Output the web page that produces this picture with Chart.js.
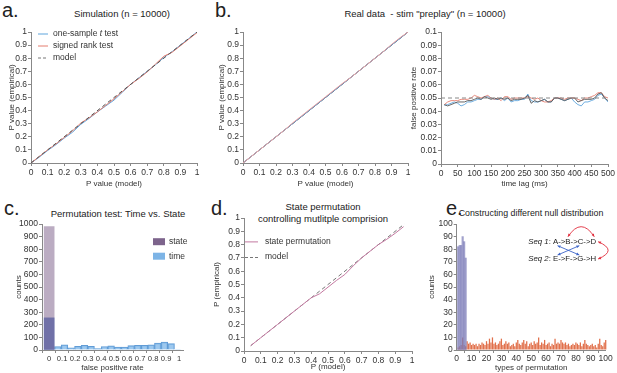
<!DOCTYPE html>
<html>
<head>
<meta charset="utf-8">
<script src="https://cdn.jsdelivr.net/npm/chart.js@4.4.0/dist/chart.umd.min.js"></script>
<style>
  html, body { margin: 0; padding: 0; background: #fff; }
  #fig { position: relative; width: 617px; height: 373px; overflow: hidden; font-family: "Liberation Sans", Arial, sans-serif; color: #222; }
  #fig canvas { position: absolute; }
  .letter { position: absolute; font-size: 20px; line-height: 20px; }
  .ttl { position: absolute; font-size: 9.5px; line-height: 11px; white-space: pre; transform: translate(-50%, -50%); }
</style>
</head>
<body>
<div id="fig">
  <div class="letter" style="left:2px;top:0px">a.</div>
  <div class="letter" style="left:215px;top:0px">b.</div>
  <div class="letter" style="left:4px;top:198px">c.</div>
  <div class="letter" style="left:211px;top:198px">d.</div>
  <div class="letter" style="left:446px;top:198px">e.</div>
  <div class="ttl" style="left:122px;top:13px">Simulation (n = 10000)</div>
  <div class="ttl" style="left:425px;top:13px">Real data  - stim "preplay" (n = 10000)</div>
  <div class="ttl" style="left:118px;top:213px">Permutation test: Time vs. State</div>
  <div class="ttl" style="left:323px;top:206px">State permutation</div>
  <div class="ttl" style="left:323px;top:218px">controlling mutlitple comprision</div>
  <div class="ttl" style="left:531px;top:213px;font-size:8.8px">Constructing different null distribution</div>
  <canvas id="chartA"></canvas>
  <canvas id="chartB1"></canvas>
  <canvas id="chartB2"></canvas>
  <canvas id="chartC"></canvas>
  <canvas id="chartD"></canvas>
  <canvas id="chartE"></canvas>
</div>
<script>
// ---- data ----

// a. simulation, P value (model) vs P value (empirical)
const aModelP = [0, 0.05, 0.1, 0.15, 0.2, 0.25, 0.3, 0.35, 0.4, 0.45, 0.5, 0.55, 0.6, 0.65, 0.7, 0.75, 0.8, 0.85, 0.9, 0.95, 1];
const aTtest = [0, 0.045, 0.095, 0.14, 0.19, 0.235, 0.295, 0.34, 0.39, 0.435, 0.48, 0.54, 0.6, 0.65, 0.7, 0.75, 0.805, 0.85, 0.9, 0.95, 1];
const aRank = [0, 0.05, 0.1, 0.145, 0.195, 0.245, 0.305, 0.345, 0.39, 0.44, 0.49, 0.545, 0.6, 0.645, 0.695, 0.755, 0.815, 0.845, 0.895, 0.945, 0.995];
const aModelLine = [0, 1];

// b. real data, left panel
const bModelP = [0, 0.05, 0.1, 0.15, 0.2, 0.25, 0.3, 0.35, 0.4, 0.45, 0.5, 0.55, 0.6, 0.65, 0.7, 0.75, 0.8, 0.85, 0.9, 0.95, 1];
const bTtest = [0, 0.05, 0.1, 0.15, 0.2, 0.25, 0.3, 0.35, 0.4, 0.45, 0.5, 0.55, 0.6, 0.65, 0.7, 0.75, 0.8, 0.85, 0.9, 0.95, 1];
const bRank = [0, 0.05, 0.1, 0.15, 0.2, 0.25, 0.305, 0.355, 0.405, 0.455, 0.505, 0.555, 0.605, 0.65, 0.7, 0.75, 0.8, 0.85, 0.905, 0.955, 1];

// b. real data, right panel: false positive rate by time lag
const lagMs = [10, 20, 30, 40, 50, 60, 70, 80, 90, 100, 110, 120, 130, 140, 150, 160, 170, 180, 190, 200,
  210, 220, 230, 240, 250, 260, 270, 280, 290, 300, 310, 320, 330, 340, 350, 360, 370, 380, 390, 400,
  410, 420, 430, 440, 450, 460, 470, 480, 490, 500];
const fprTtest = [0.0445, 0.045, 0.046, 0.047, 0.046, 0.044, 0.045, 0.047, 0.047, 0.048, 0.049, 0.049, 0.051, 0.051, 0.05, 0.049, 0.049, 0.05, 0.048, 0.05,
  0.047, 0.048, 0.048, 0.049, 0.049, 0.053, 0.048, 0.047, 0.047, 0.048, 0.049, 0.047, 0.047, 0.05, 0.05, 0.049, 0.048, 0.049, 0.05, 0.047,
  0.045, 0.044, 0.047, 0.047, 0.048, 0.049, 0.052, 0.053, 0.05, 0.047];
const fprRank = [0.045, 0.047, 0.048, 0.048, 0.048, 0.049, 0.049, 0.049, 0.05, 0.052, 0.051, 0.05, 0.051, 0.052, 0.05, 0.049, 0.05, 0.048, 0.051, 0.051,
  0.049, 0.05, 0.05, 0.05, 0.05, 0.051, 0.05, 0.049, 0.05, 0.048, 0.047, 0.047, 0.048, 0.05, 0.05, 0.05, 0.049, 0.05, 0.05, 0.05,
  0.049, 0.048, 0.05, 0.05, 0.051, 0.052, 0.054, 0.054, 0.051, 0.05];
const fprOther = [0.045, 0.044, 0.045, 0.046, 0.047, 0.047, 0.047, 0.048, 0.048, 0.049, 0.05, 0.049, 0.051, 0.05, 0.049, 0.05, 0.049, 0.05, 0.049, 0.05,
  0.048, 0.049, 0.049, 0.049, 0.05, 0.052, 0.046, 0.048, 0.047, 0.048, 0.049, 0.047, 0.047, 0.05, 0.05, 0.049, 0.048, 0.049, 0.05, 0.05,
  0.047, 0.048, 0.049, 0.049, 0.049, 0.05, 0.053, 0.054, 0.05, 0.048];
const fprNominalX = [0, 500];
const fprNominal = [0.05, 0.05];

// c. permutation test histogram
const cStateRate = [0];
const cStateCounts = [980];
const cTimeRate = [0, 0.067, 0.118, 0.169, 0.221, 0.272, 0.323, 0.375, 0.426, 0.477, 0.528, 0.58, 0.631, 0.682, 0.734, 0.785, 0.836, 0.887, 0.939, 0.99];
const cTimeCounts = [255, 28, 42, 18, 30, 38, 30, 12, 28, 33, 24, 24, 35, 38, 38, 42, 55, 63, 50, 4];

// d. state permutation controlling multiple comparison
const dModelP = [0.04, 0.1, 0.15, 0.2, 0.25, 0.3, 0.35, 0.4, 0.45, 0.5, 0.55, 0.6, 0.65, 0.7, 0.75, 0.8, 0.85, 0.9, 0.95];
const dStatePerm = [0.04, 0.1, 0.15, 0.2, 0.25, 0.3, 0.35, 0.4, 0.43, 0.48, 0.53, 0.575, 0.64, 0.7, 0.75, 0.8, 0.84, 0.885, 0.935];
const dModelLineX = [0.04, 0.955];
const dModelLine = [0.04, 0.955];

// e. null distributions by permutation type
const eSpecialTypes = [1, 2, 3, 4, 5, 6];
const eSpecialCounts = [82, 83, 83, 90, 86, 73];
const ePermTypes = Array.from({length: 100}, (_, i) => i + 1);
const ePermCounts = [2, 3, 4, 10, 4, 3, 7, 5, 6, 4,
  5, 4, 5, 3, 5, 4, 6, 5, 4, 7,
  5, 9, 6, 10, 5, 6, 4, 5, 7, 9,
  4, 5, 7, 5, 6, 3, 4, 5, 3, 6,
  8, 5, 4, 6, 8, 5, 7, 3, 5, 6,
  4, 7, 5, 6, 10, 4, 6, 5, 8, 4,
  5, 6, 3, 5, 4, 9, 5, 6, 5, 8,
  6, 5, 6, 4, 5, 3, 4, 5, 4, 6,
  5, 4, 6, 3, 5, 8, 5, 4, 3, 4,
  5, 3, 4, 2, 5, 9, 4, 3, 6, 8];

// tick values
const unitTicks = [0, 0.1, 0.2, 0.3, 0.4, 0.5, 0.6, 0.7, 0.8, 0.9, 1];
const fprTicks = [0, 0.01, 0.02, 0.03, 0.04, 0.05, 0.06, 0.07, 0.08, 0.09, 0.1];
const lagTicks = [0, 50, 100, 150, 200, 250, 300, 350, 400, 450, 500];
const countTicksC = [0, 100, 200, 300, 400, 500, 600, 700, 800, 900, 1000];
const countTicksE = [0, 10, 20, 30, 40, 50, 60, 70, 80, 90, 100];
const typeTicks = [0, 10, 20, 30, 40, 50, 60, 70, 80, 90, 100];

// ---- helpers ----
const FAM = '"Liberation Sans", Arial, sans-serif';
const axisTitleFont = {family: FAM, size: 8};
const BLUE = 'rgb(95,165,220)', RED = 'rgb(228,125,110)';

const pts = (xs, ys) => xs.map((x, i) => ({x: x, y: ys[i]}));

function axis(o) {
  return {
    type: 'linear', min: o.min, max: o.max, offset: false,
    border: {color: '#888', width: 1},
    grid: {drawOnChartArea: false, tickLength: 3, color: '#888'},
    ticks: {font: {family: FAM, size: o.fs || 8.5}, color: '#333', padding: o.pad, maxRotation: 0, autoSkip: false, includeBounds: false,
      callback: v => String(+Number(v).toFixed(3))},
    title: {display: true, text: o.title, font: axisTitleFont, color: '#333', padding: o.tpad},
    afterBuildTicks: s => { s.ticks = o.ticks.map(v => ({value: v})); },
    afterFit: s => {
      if (o.w != null) s.width = o.w;
      if (o.h != null) s.height = o.h;
      // keep label overhang from shrinking the plot area
      s.paddingLeft = 0; s.paddingRight = 0; s.paddingTop = 0; s.paddingBottom = 0;
    }
  };
}

function line(label, data, color, dash, width) {
  return {label: label, data: data, borderColor: color, borderWidth: width || 1, borderDash: dash || [],
    pointRadius: 0, tension: 0, fill: false};
}

// small legend drawn inside the plot area
const miniLegend = {
  id: 'miniLegend',
  afterDraw(chart, args, o) {
    if (!o.items) return;
    const ctx = chart.ctx, a = chart.chartArea;
    ctx.save();
    ctx.textBaseline = 'middle';
    o.items.forEach((it, i) => {
      const x = a.left + o.dx, y = a.top + o.dy + i * o.gap;
      if (it.box) {
        ctx.fillStyle = it.color;
        ctx.fillRect(x, y - 3.5, o.len, 7);
      } else {
        ctx.strokeStyle = it.color;
        ctx.lineWidth = 1;
        ctx.setLineDash(it.dash || []);
        ctx.beginPath(); ctx.moveTo(x, y + 0.5); ctx.lineTo(x + o.len, y + 0.5); ctx.stroke();
        ctx.setLineDash([]);
      }
      let tx = x + o.len + o.textGap;
      ctx.fillStyle = '#333';
      it.label.forEach(seg => {
        ctx.font = (seg.i ? 'italic ' : '') + o.size + 'px ' + FAM;
        ctx.fillText(seg.t, tx, y);
        tx += ctx.measureText(seg.t).width;
      });
    });
    ctx.restore();
  }
};

function arrowHead(ctx, fx, fy, tx, ty, color) {
  const ang = Math.atan2(ty - fy, tx - fx), s = 3.2;
  ctx.fillStyle = color;
  ctx.beginPath();
  ctx.moveTo(tx, ty);
  ctx.lineTo(tx - s * Math.cos(ang - 0.45), ty - s * Math.sin(ang - 0.45));
  ctx.lineTo(tx - s * Math.cos(ang + 0.45), ty - s * Math.sin(ang + 0.45));
  ctx.closePath();
  ctx.fill();
}

// the sequence sketch in panel e
const seqInset = {
  id: 'seqInset',
  afterDraw(chart, args, o) {
    if (!o.lines) return;
    const ctx = chart.ctx, a = chart.chartArea;
    ctx.save();
    ctx.textBaseline = 'middle';
    ctx.fillStyle = '#222';
    const marks = o.lines.map((ln, r) => {
      let x = a.left + o.dx;
      const y = a.top + o.dy + r * o.gap;
      ctx.font = 'italic ' + o.size + 'px ' + FAM;
      ctx.fillText(ln.name, x, y);
      x += ctx.measureText(ln.name).width;
      ctx.font = o.size + 'px ' + FAM;
      ctx.fillText(': ', x, y);
      x += ctx.measureText(': ').width;
      const m = [];
      ln.nodes.forEach((n, i) => {
        if (i) { ctx.fillText('->', x, y); x += ctx.measureText('->').width; }
        const w = ctx.measureText(n).width;
        m.push({l: x, r: x + w, c: x + w / 2, y: y});
        ctx.fillText(n, x, y);
        x += w;
      });
      return m;
    });
    const s1 = marks[0], s2 = marks[1];
    const red = 'rgb(225,45,60)', blue = 'rgb(60,100,200)';
    ctx.lineWidth = 0.9;
    // red arc B <-> D
    let p0 = {x: s1[1].c, y: s1[1].y - 5}, p1 = {x: s1[3].c + 1, y: s1[3].y - 5}, cp = {x: (p0.x + p1.x) / 2, y: p0.y - 20};
    ctx.strokeStyle = red;
    ctx.beginPath(); ctx.moveTo(p0.x, p0.y); ctx.quadraticCurveTo(cp.x, cp.y, p1.x, p1.y); ctx.stroke();
    arrowHead(ctx, cp.x, cp.y, p0.x, p0.y, red);
    arrowHead(ctx, cp.x, cp.y, p1.x, p1.y, red);
    // red arc D <-> H
    p0 = {x: s1[3].r + 2, y: s1[3].y}; p1 = {x: s2[3].r + 2, y: s2[3].y}; cp = {x: p0.x + 20, y: (p0.y + p1.y) / 2};
    ctx.beginPath(); ctx.moveTo(p0.x, p0.y); ctx.quadraticCurveTo(cp.x, cp.y, p1.x, p1.y); ctx.stroke();
    arrowHead(ctx, cp.x, cp.y, p0.x, p0.y, red);
    arrowHead(ctx, cp.x, cp.y, p1.x, p1.y, red);
    // blue cross
    const xl = s1[0].c + 2, xr = s2[2].c - 1, yt = s1[0].y + 4, yb = s2[0].y - 4;
    ctx.strokeStyle = blue;
    [[xl, yt, xr, yb], [xl, yb, xr, yt]].forEach(c => {
      ctx.beginPath(); ctx.moveTo(c[0], c[1]); ctx.lineTo(c[2], c[3]); ctx.stroke();
      arrowHead(ctx, c[2], c[3], c[0], c[1], blue);
      arrowHead(ctx, c[0], c[1], c[2], c[3], blue);
    });
    ctx.restore();
  }
};

Chart.register(miniLegend, seqInset);

function place(id, left, top, w, h) {
  const cv = document.getElementById(id);
  cv.width = w; cv.height = h;
  cv.style.left = left + 'px'; cv.style.top = top + 'px';
  cv.style.width = w + 'px'; cv.style.height = h + 'px';
  return cv.getContext('2d');
}

function baseOptions(pad, scales, plugins) {
  return {
    responsive: false, animation: false, devicePixelRatio: 1,
    layout: {padding: pad},
    scales: scales,
    plugins: Object.assign({legend: {display: false}, tooltip: {enabled: false}}, plugins || {})
  };
}

// ---- a. ----
new Chart(place('chartA', 0, 26, 200, 165), {
  type: 'line',
  data: {datasets: [
    line('model', pts(aModelLine, aModelLine), '#555', [4, 3]),
    line('signed rank test', pts(aModelP, aRank), RED),
    line('one-sample t test', pts(aModelP, aTtest), BLUE)
  ]},
  options: baseOptions({top: 6, right: 3, left: 0, bottom: 0}, {
    x: axis({min: 0, max: 1, ticks: unitTicks, title: 'P value (model)', pad: 2, tpad: {top: 0, bottom: 2}, h: 28}),
    y: axis({min: 0, max: 1, ticks: unitTicks, title: 'P value (empirical)', pad: 1, tpad: {top: 7, bottom: 0}, w: 31})
  }, {miniLegend: {dx: 7, dy: 1.5, gap: 12, len: 10, textGap: 5, size: 8.5, items: [
    {color: BLUE, label: [{t: 'one-sample '}, {t: 't', i: true}, {t: ' test'}]},
    {color: RED, label: [{t: 'signed rank test'}]},
    {color: '#777', dash: [3, 2], label: [{t: 'model'}]}
  ]}})
});

// ---- b. left ----
new Chart(place('chartB1', 215, 26, 196, 165), {
  type: 'line',
  data: {datasets: [
    line('signed rank test', pts(bModelP, bRank), 'rgb(235,160,160)'),
    line('one-sample t test', pts(bModelP, bTtest), BLUE),
    line('model', pts(aModelLine, aModelLine), '#222')
  ]},
  options: baseOptions({top: 6, right: 3, left: 0, bottom: 0}, {
    x: axis({min: 0, max: 1, ticks: unitTicks, title: 'P value (model)', pad: 2, tpad: {top: 0, bottom: 2}, h: 28}),
    y: axis({min: 0, max: 1, ticks: unitTicks, title: 'P value (empirical)', pad: 1, tpad: {top: 2, bottom: 0}, w: 28})
  })
});

// ---- b. right ----
new Chart(place('chartB2', 405, 26, 212, 165), {
  type: 'line',
  data: {datasets: [
    line('model', pts(fprNominalX, fprNominal), '#888', [4, 3]),
    line('other', pts(lagMs, fprOther), '#555', [], 0.9),
    line('signed rank test', pts(lagMs, fprRank), RED, [], 0.9),
    line('one-sample t test', pts(lagMs, fprTtest), BLUE, [], 0.9)
  ]},
  options: baseOptions({top: 6, right: 9, left: 0, bottom: 0}, {
    x: axis({min: 0, max: 500, ticks: lagTicks, title: 'time lag (ms)', pad: 2, tpad: {top: 0, bottom: 2}, h: 27}),
    y: axis({min: 0, max: 0.1, ticks: fprTicks, title: 'false positive rate', pad: 1, tpad: {top: 4, bottom: 0}, w: 36})
  })
});

// ---- c. ----
new Chart(place('chartC', 8, 218, 203, 155), {
  type: 'bar',
  data: {datasets: [
    {label: 'state', data: pts(cStateRate, cStateCounts), backgroundColor: 'rgba(105,70,120,0.45)', barThickness: 10, grouped: false},
    {label: 'time', data: pts(cTimeRate.slice(0, 1), cTimeCounts.slice(0, 1)), backgroundColor: 'rgba(60,100,185,0.7)', barThickness: 10, grouped: false},
    {label: 'time', data: pts(cTimeRate.slice(1), cTimeCounts.slice(1)), backgroundColor: 'rgba(140,190,235,0.85)',
      borderColor: 'rgba(80,145,210,0.9)', borderWidth: 1, barPercentage: 1, categoryPercentage: 1, grouped: false}
  ]},
  options: baseOptions({top: 6, right: 28, left: 0, bottom: 0}, {
    x: axis({min: -0.055, max: 1.03, ticks: unitTicks, title: 'false positive rate', pad: 1, fs: 7.6, tpad: {top: 0, bottom: 0}, h: 23}),
    y: axis({min: 0, max: 1000, ticks: countTicksC, title: 'counts', pad: 1, tpad: {top: 6, bottom: 0}, w: 34})
  }, {miniLegend: {dx: 111, dy: 17.7, gap: 14.5, len: 12, textGap: 4, size: 8.5, items: [
    {box: true, color: 'rgb(125,100,140)', label: [{t: 'state'}]},
    {box: true, color: 'rgb(125,180,230)', label: [{t: 'time'}]}
  ]}})
});

// ---- d. ----
new Chart(place('chartD', 212, 212, 203, 161), {
  type: 'line',
  data: {datasets: [
    line('state permutation', pts(dModelP, dStatePerm), 'rgb(195,120,160)'),
    line('model', pts(dModelLineX, dModelLine), '#777', [4, 3])
  ]},
  options: baseOptions({top: 6, right: 3, left: 0, bottom: 0}, {
    x: axis({min: 0, max: 1, ticks: unitTicks, title: 'P (model)', pad: 2, tpad: {top: 0, bottom: 1}, h: 22}),
    y: axis({min: 0, max: 1, ticks: unitTicks, title: 'P (empirical)', pad: 1, tpad: {top: 0, bottom: 0}, w: 32})
  }, {miniLegend: {dx: 1, dy: 23.4, gap: 15.6, len: 13, textGap: 7, size: 8.5, items: [
    {color: 'rgb(195,120,160)', label: [{t: 'state permutation'}]},
    {color: '#777', dash: [3, 2], label: [{t: 'model'}]}
  ]}})
});

// ---- e. ----
new Chart(place('chartE', 423, 218, 194, 155), {
  type: 'bar',
  data: {datasets: [
    {label: 'special', data: pts(eSpecialTypes, eSpecialCounts), backgroundColor: 'rgba(125,125,185,0.72)',
      barPercentage: 1, categoryPercentage: 1, grouped: false, clip: false},
    {label: 'other', data: pts(ePermTypes, ePermCounts), backgroundColor: 'rgb(225,112,75)',
      barPercentage: 0.85, categoryPercentage: 1, grouped: false, clip: false}
  ]},
  options: baseOptions({top: 6, right: 11.3, left: 0, bottom: 0}, {
    x: axis({min: 0, max: 100, ticks: typeTicks, title: 'types of permutation', pad: 1, tpad: {top: 0, bottom: 0}, h: 23}),
    y: axis({min: 0, max: 100, ticks: countTicksE, title: 'counts', pad: 1, tpad: {top: 4, bottom: 0}, w: 33.7})
  }, {seqInset: {dx: 71.6, dy: 17.7, gap: 17.3, size: 7.8, lines: [
    {name: 'Seq 1', nodes: ['A', 'B', 'C', 'D']},
    {name: 'Seq 2', nodes: ['E', 'F', 'G', 'H']}
  ]}})
});
</script>
</body>
</html>
